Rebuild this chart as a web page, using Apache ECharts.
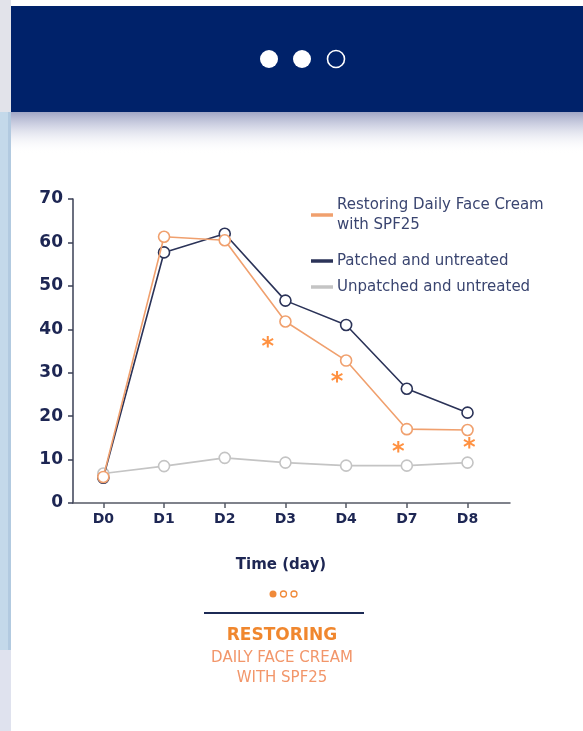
<!DOCTYPE html>
<html>
<head>
<meta charset="utf-8">
<script src="https://cdn.jsdelivr.net/npm/echarts@6/dist/echarts.min.js"></script>
<style>
html,body{margin:0;padding:0;background:#fff;}
#c{width:583px;height:731px;}
</style>
</head>
<body>
<div id="c"></div>
<script>
const categories = ['D0', 'D1', 'D2', 'D3', 'D4', 'D7', 'D8'];
const restoring = [6.0, 61.3, 60.5, 41.8, 32.8, 17.0, 16.8];
const patched = [5.8, 57.7, 62.0, 46.6, 41.0, 26.3, 20.8];
const unpatched = [6.8, 8.5, 10.4, 9.3, 8.6, 8.6, 9.3];
const sigMarks = [[2.71, 36.8], [3.85, 28.8], [4.86, 12.7], [6.03, 13.6]];
const yTicks = [0, 10, 20, 30, 40, 50, 60, 70];
const seriesNames = ['Restoring Daily Face Cream\nwith SPF25', 'Patched and untreated', 'Unpatched and untreated'];

const NAVY = '#1d2653';
const ORANGE_LINE = '#f0a06e';
const NAVY_LINE = '#2b3358';
const GRAY_LINE = '#c4c4c4';

const idx = categories.map((_, i) => i);
const toPairs = arr => arr.map((v, i) => [i, v]);

const chart = echarts.init(document.getElementById('c'), null, {renderer: 'canvas'});

const lineSeries = (name, data, color, z) => ({
  name: name,
  type: 'line',
  data: toPairs(data),
  symbol: 'circle',
  symbolSize: 11,
  z: z,
  itemStyle: {color: '#ffffff', borderColor: color, borderWidth: 1.6},
  lineStyle: {color: color, width: 1.6},
  emphasis: {disabled: true}
});

chart.setOption({
  animation: false,
  grid: {left: 73, top: 199, width: 437, height: 304},
  xAxis: {
    type: 'value',
    min: -0.5,
    max: 6.7,
    splitLine: {show: false},
    axisLine: {show: true, onZero: false, lineStyle: {color: '#555a66', width: 1.5}},
    axisTick: {show: true, customValues: idx, length: 5, lineStyle: {color: '#555a66', width: 1.5}},
    axisLabel: {
      customValues: idx,
      formatter: v => categories[Math.round(v)],
      color: NAVY, fontWeight: 'bold', fontSize: 14, fontFamily: 'DejaVu Sans', margin: 9
    }
  },
  yAxis: {
    type: 'value',
    min: 0,
    max: 70,
    interval: 10,
    splitLine: {show: false},
    axisLine: {show: true, onZero: false, lineStyle: {color: '#3a3f55', width: 1.5}},
    axisTick: {show: true, length: 5, lineStyle: {color: '#3a3f55', width: 1.5}},
    axisLabel: {
      formatter: v => (yTicks.indexOf(v) >= 0 ? String(v) : ''),
      color: NAVY, fontWeight: 'bold', fontSize: 17, fontFamily: 'DejaVu Sans', margin: 10
    }
  },
  legend: {
    orient: 'vertical',
    left: 306,
    top: 180,
    itemWidth: 20,
    itemHeight: 1.5,
    itemGap: 6,
    icon: 'rect',
    selectedMode: false,
    textStyle: {color: '#3a4570', fontSize: 15, fontFamily: 'DejaVu Sans', lineHeight: 20},
    data: [
      {name: seriesNames[0], textStyle: {padding: [20, 0, 0, 0]}},
      {name: seriesNames[1]},
      {name: seriesNames[2]}
    ]
  },
  series: [
    lineSeries(seriesNames[2], unpatched, GRAY_LINE, 2),
    lineSeries(seriesNames[1], patched, NAVY_LINE, 3),
    lineSeries(seriesNames[0], restoring, ORANGE_LINE, 4),
    {
      name: 'significance',
      type: 'scatter',
      data: sigMarks,
      symbolSize: 0,
      silent: true,
      z: 6,
      label: {
        show: true,
        position: 'inside',
        formatter: '*',
        color: '#ff7612',
        fontSize: 24,
        fontWeight: 'bold',
        fontFamily: 'DejaVu Sans',
        offset: [0, 5]
      }
    }
  ],
  graphic: [
    {type: 'rect', shape: {x: 0, y: 0, width: 583, height: 731}, style: {fill: '#ffffff'}, z: -10, silent: true},
    {type: 'rect', shape: {x: 0, y: 0, width: 11, height: 112}, style: {fill: '#e2e3ea'}, z: -5, silent: true},
    {type: 'rect', shape: {x: 0, y: 112, width: 11, height: 538}, style: {fill: '#c4d9ea'}, z: -5, silent: true},
    {type: 'rect', shape: {x: 8, y: 112, width: 3, height: 538}, style: {fill: '#b2cae0'}, z: -5, silent: true},
    {type: 'rect', shape: {x: 0, y: 650, width: 11, height: 81}, style: {fill: '#dfe2ee'}, z: -5, silent: true},
    {
      type: 'rect', shape: {x: 11, y: 112, width: 572, height: 42}, z: -4, silent: true,
      style: {fill: new echarts.graphic.LinearGradient(0, 0, 0, 1, [
        {offset: 0, color: 'rgba(120,128,172,0.7)'},
        {offset: 0.35, color: 'rgba(160,166,200,0.45)'},
        {offset: 1, color: 'rgba(255,255,255,0)'}
      ])}
    },
    {type: 'rect', shape: {x: 11, y: 6, width: 572, height: 106}, style: {fill: '#00226a'}, z: -3, silent: true},
    {type: 'circle', shape: {cx: 269, cy: 59, r: 9}, style: {fill: '#ffffff'}, silent: true},
    {type: 'circle', shape: {cx: 302, cy: 59, r: 9}, style: {fill: '#ffffff'}, silent: true},
    {type: 'circle', shape: {cx: 336, cy: 59, r: 8.5}, style: {fill: 'none', stroke: '#ffffff', lineWidth: 1.6}, silent: true},
    {type: 'text', x: 281, y: 565, silent: true,
      style: {text: 'Time (day)', fill: NAVY, font: 'bold 15px "DejaVu Sans"', textAlign: 'center', textVerticalAlign: 'middle'}},
    {type: 'circle', shape: {cx: 273, cy: 594, r: 3.5}, style: {fill: '#f08a3a'}, silent: true},
    {type: 'circle', shape: {cx: 283.5, cy: 594, r: 3}, style: {fill: '#fff', stroke: '#f08a3a', lineWidth: 1.3}, silent: true},
    {type: 'circle', shape: {cx: 294, cy: 594, r: 3}, style: {fill: '#fff', stroke: '#f08a3a', lineWidth: 1.3}, silent: true},
    {type: 'line', shape: {x1: 204, y1: 613, x2: 364, y2: 613}, style: {stroke: '#1c2a55', lineWidth: 2}, silent: true},
    {type: 'text', x: 282, y: 636, silent: true,
      style: {text: 'RESTORING', fill: '#f0872e', font: 'bold 17px "DejaVu Sans"', textAlign: 'center', textVerticalAlign: 'middle'}},
    {type: 'text', x: 282, y: 658, silent: true,
      style: {text: 'DAILY FACE CREAM', fill: '#f2966a', font: '15px "DejaVu Sans"', textAlign: 'center', textVerticalAlign: 'middle'}},
    {type: 'text', x: 282, y: 678, silent: true,
      style: {text: 'WITH SPF25', fill: '#f2966a', font: '15px "DejaVu Sans"', textAlign: 'center', textVerticalAlign: 'middle'}}
  ]
});
</script>
</body>
</html>
